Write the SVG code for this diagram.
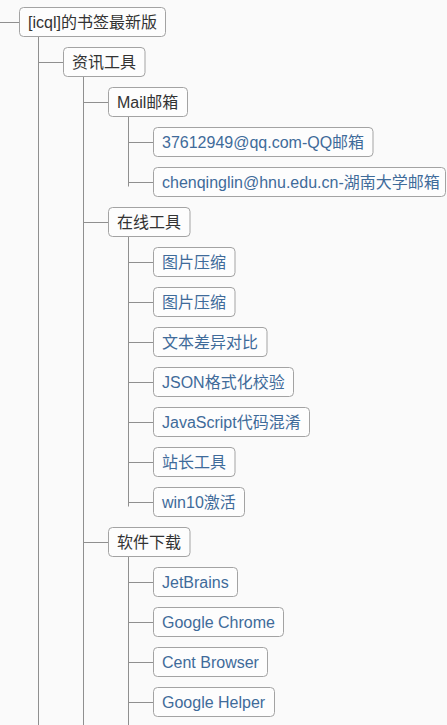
<svg xmlns="http://www.w3.org/2000/svg" width="447" height="725" viewBox="0 0 447 725">
<style>
.bg{fill:#fafafa}
.box{fill:#fdfdfd;stroke:#a3a3a3;stroke-width:1}
.t{font-family:"Liberation Sans","Noto Sans CJK SC",sans-serif;font-size:16px}
.d{fill:#333333}
.b{fill:#3f6b9a}
.ln{stroke:#8f8f8f;stroke-width:1;fill:none}
</style>
<rect class="bg" x="0" y="0" width="447" height="725"/>
<g id="connectors">
<path class="ln" d="M0 22.5H19.5"/>
<path class="ln" d="M38.5 36.5V725"/>
<path class="ln" d="M38.5 62.5H63.5"/>
<path class="ln" d="M83.5 76.5V725"/>
<path class="ln" d="M83.5 102.5H108.5M83.5 222.5H108.5M83.5 542.5H108.5"/>
<path class="ln" d="M128.5 116.5V186.5M128.5 142.5H153.5M128.5 182.5H153.5"/>
<path class="ln" d="M128.5 236.5V506.5M128.5 262.5H153.5M128.5 302.5H153.5M128.5 342.5H153.5M128.5 382.5H153.5M128.5 422.5H153.5M128.5 462.5H153.5M128.5 502.5H153.5"/>
<path class="ln" d="M128.5 556.5V725M128.5 582.5H153.5M128.5 622.5H153.5M128.5 662.5H153.5M128.5 702.5H153.5"/>
</g>
<g id="n0"><rect class="box" x="19.5" y="7.5" width="146" height="29" rx="4"/><text class="t d" x="28" y="28">[icql]的书签最新版</text></g>
<g id="n1"><rect class="box" x="63.5" y="47.5" width="81.5" height="29" rx="4"/><text class="t d" x="72" y="68">资讯工具</text></g>
<g id="n2"><rect class="box" x="108.5" y="87.5" width="79" height="29" rx="4"/><text class="t d" x="117" y="108">Mail邮箱</text></g>
<g id="n3"><rect class="box" x="153.5" y="127.5" width="219.5" height="29" rx="4"/><text class="t b" x="162" y="148">37612949@qq.com-QQ邮箱</text></g>
<g id="n4"><rect class="box" x="153.5" y="167.5" width="292" height="29" rx="4"/><text class="t b" x="162" y="188">chenqinglin@hnu.edu.cn-湖南大学邮箱</text></g>
<g id="n5"><rect class="box" x="108.5" y="207.5" width="81.5" height="29" rx="4"/><text class="t d" x="117" y="228">在线工具</text></g>
<g id="n6"><rect class="box" x="153.5" y="247.5" width="81.5" height="29" rx="4"/><text class="t b" x="162" y="268">图片压缩</text></g>
<g id="n7"><rect class="box" x="153.5" y="287.5" width="81.5" height="29" rx="4"/><text class="t b" x="162" y="308">图片压缩</text></g>
<g id="n8"><rect class="box" x="153.5" y="327.5" width="113.5" height="29" rx="4"/><text class="t b" x="162" y="348">文本差异对比</text></g>
<g id="n9"><rect class="box" x="153.5" y="367.5" width="140" height="29" rx="4"/><text class="t b" x="162" y="388">JSON格式化校验</text></g>
<g id="n10"><rect class="box" x="153.5" y="407.5" width="156" height="29" rx="4"/><text class="t b" x="162" y="428">JavaScript代码混淆</text></g>
<g id="n11"><rect class="box" x="153.5" y="447.5" width="81.5" height="29" rx="4"/><text class="t b" x="162" y="468">站长工具</text></g>
<g id="n12"><rect class="box" x="153.5" y="487.5" width="91" height="29" rx="4"/><text class="t b" x="162" y="508">win10激活</text></g>
<g id="n13"><rect class="box" x="108.5" y="527.5" width="81.5" height="29" rx="4"/><text class="t d" x="117" y="548">软件下载</text></g>
<g id="n14"><rect class="box" x="153.5" y="567.5" width="84" height="29" rx="4"/><text class="t b" x="162" y="588">JetBrains</text></g>
<g id="n15"><rect class="box" x="153.5" y="607.5" width="130" height="29" rx="4"/><text class="t b" x="162" y="628">Google Chrome</text></g>
<g id="n16"><rect class="box" x="153.5" y="647.5" width="114" height="29" rx="4"/><text class="t b" x="162" y="668">Cent Browser</text></g>
<g id="n17"><rect class="box" x="153.5" y="687.5" width="121" height="29" rx="4"/><text class="t b" x="162" y="708">Google Helper</text></g>
</svg>
